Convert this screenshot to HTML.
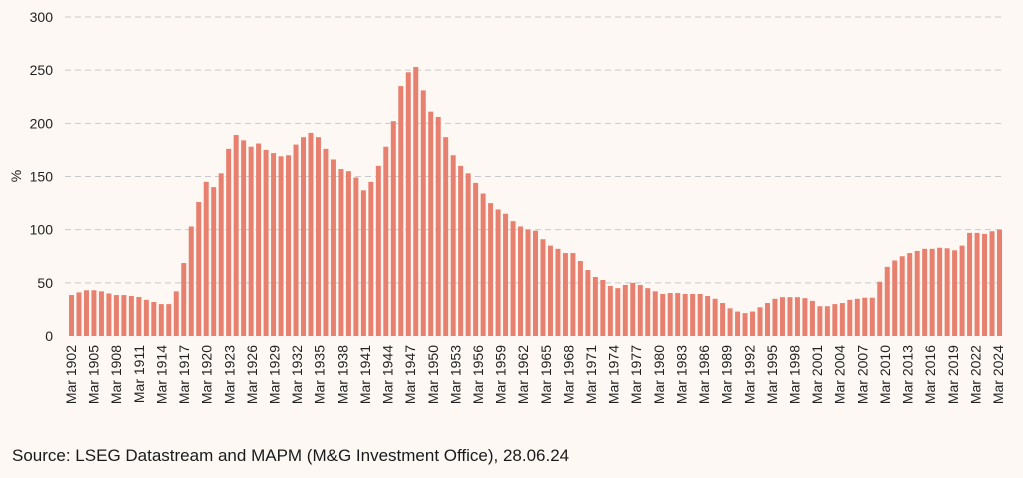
<!DOCTYPE html>
<html><head><meta charset="utf-8">
<style>
html,body{margin:0;padding:0;background:#fdf8f4;}
svg{display:block;font-family:"Liberation Sans",sans-serif;}
</style></head>
<body>
<svg id="chart" width="1023" height="478" viewBox="0 0 1023 478">
<rect width="1023" height="478" fill="#fdf8f4"/>
<g id="grid"></g>
<g id="yticks"></g>
<text x="21" y="176" transform="rotate(-90 21 176)" text-anchor="middle" font-size="14" fill="#222">%</text>
<g id="bars"></g>
<g id="xlabels"></g>
<text x="12" y="461" font-size="17" fill="#1a1a1a">Source: LSEG Datastream and MAPM (M&amp;G Investment Office), 28.06.24</text>
</svg>
<script>
const values = [38.5,41,43,43,42,40,38.5,38.5,37.6,36.7,34,32,30,30,42,68.6,103,126,145,140,153,176,189,184,178,181,175,172,169,170,180,187,191,187,176,166,157,155,149,137,145,160,178,
202,235,248,253,231,211,206,187,170,160,153,144,134,125,119,115,108,103,100,99,91,85,82,78,78,70.5,62,55.5,52.7,47,45,48,50,48,45,42,39.5,40.4,40.4,39.5,39.5,39.5,37.6,
35,31,26,23,21.5,23,27,31,35,36.5,36.5,36.5,35.6,33,28,28,30,31,34,35,36,36,51,65,71,75,78,80,82,82,83,82.5,80.6,85,97,97,96,98.5,100];
const yTicks = [0,50,100,150,200,250,300];
const xLabelYears = [1902,1905,1908,1911,1914,1917,1920,1923,1926,1929,1932,1935,1938,1941,1944,1947,1950,1953,1956,1959,1962,1965,1968,1971,1974,1977,1980,1983,1986,1989,1992,1995,1998,2001,2004,2007,2010,2013,2016,2019,2022,2024];

const NS = "http://www.w3.org/2000/svg";
const y0 = 336, y300 = 17;
function yScale(v){ return y0 - (v/300)*(y0-y300); }
const firstX = 71.5, lastX = 999.5;
function xScale(i){ return firstX + i*(lastX-firstX)/(values.length-1); }
function labelX(k){ return 71 + k*(998-71)/(xLabelYears.length-1); }

const grid = document.getElementById('grid');
const yt = document.getElementById('yticks');
yTicks.forEach(t=>{
  const yy = yScale(t);
  if (t>0){
    const l = document.createElementNS(NS,'line');
    l.setAttribute('x1',65); l.setAttribute('x2',1005);
    l.setAttribute('y1',yy); l.setAttribute('y2',yy);
    l.setAttribute('stroke','#c9c9cc'); l.setAttribute('stroke-dasharray','6,4'); l.setAttribute('stroke-width','1');
    
    
    grid.appendChild(l);
  }
  const tx = document.createElementNS(NS,'text');
  tx.setAttribute('x',53); tx.setAttribute('y',yy+5);
  tx.setAttribute('text-anchor','end'); tx.setAttribute('font-size','14'); tx.setAttribute('fill','#222');
  tx.textContent = t;
  
  
  yt.appendChild(tx);
});

const bars = document.getElementById('bars');
const bw = 5;
values.forEach((v,i)=>{
  const r = document.createElementNS(NS,'rect');
  const yy = yScale(v);
  r.setAttribute('x', xScale(i)-bw/2); r.setAttribute('y', yy);
  r.setAttribute('width', bw); r.setAttribute('height', y0-yy);
  r.setAttribute('fill','#e8806f');
  
  
  bars.appendChild(r);
});

const xl = document.getElementById('xlabels');
xLabelYears.forEach((yr,k)=>{
  const x = labelX(k)+5, y = 345;
  const tx = document.createElementNS(NS,'text');
  tx.setAttribute('x',x); tx.setAttribute('y',y);
  tx.setAttribute('transform','rotate(-90 '+x+' '+y+')');
  tx.setAttribute('text-anchor','end'); tx.setAttribute('font-size','14'); tx.setAttribute('fill','#222');
  tx.textContent = 'Mar '+yr;
  
  
  xl.appendChild(tx);
});
</script>
</body></html>
